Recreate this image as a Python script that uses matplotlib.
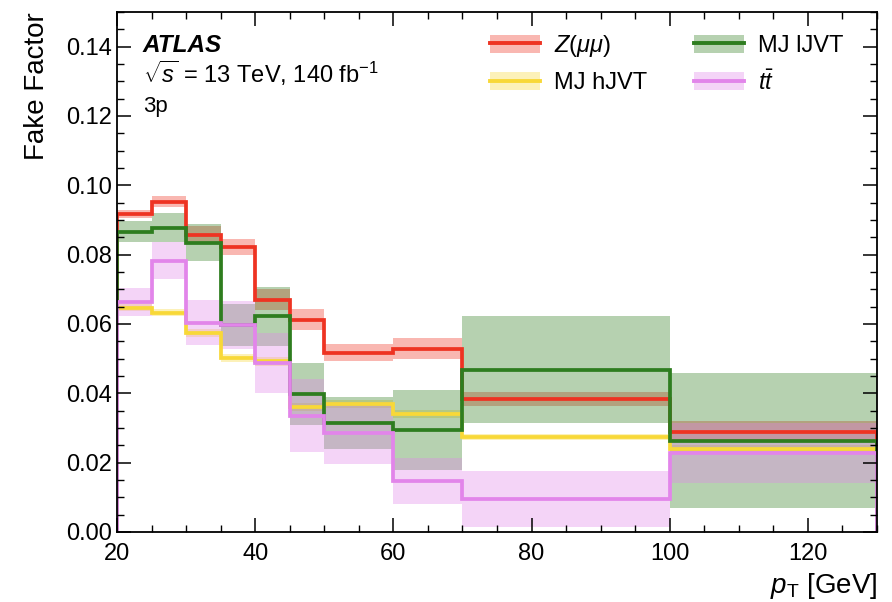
import numpy as np
import matplotlib
matplotlib.use("Agg")
import matplotlib.pyplot as plt
from matplotlib.patches import Patch
from matplotlib.lines import Line2D
from matplotlib.ticker import MultipleLocator, FormatStrFormatter

plt.rcParams['font.family'] = ['Liberation Sans', 'DejaVu Sans']
plt.rcParams['mathtext.fontset'] = 'custom'
plt.rcParams['mathtext.rm'] = 'Liberation Sans'
plt.rcParams['mathtext.it'] = 'Liberation Sans:italic'
plt.rcParams['mathtext.bf'] = 'Liberation Sans:bold'

# pT bin edges [GeV]
edges = [20, 25, 30, 35, 40, 45, 50, 60, 70, 100, 130]

# fake factors per bin and their uncertainties
ff_zmumu = [0.0918, 0.0953, 0.0857, 0.0823, 0.0670, 0.0612, 0.0517, 0.0528, 0.0384, 0.0289]
err_zmumu = [0.0012, 0.0016, 0.0025, 0.0023, 0.0030, 0.0030, 0.0025, 0.0030, 0.0020, 0.0030]

ff_hjvt = [0.0647, 0.0632, 0.0574, 0.0502, 0.0492, 0.0361, 0.0370, 0.0341, 0.0274, 0.0240]
err_hjvt = [0.0010, 0.0010, 0.0012, 0.0012, 0.0012, 0.0012, 0.0012, 0.0012, 0.0010, 0.0010]

ff_ljvt = [0.0866, 0.0878, 0.0834, 0.0597, 0.0622, 0.0398, 0.0314, 0.0294, 0.0468, 0.0263]
err_ljvt = [0.0030, 0.0042, 0.0053, 0.0060, 0.0085, 0.0090, 0.0075, 0.0115, 0.0155, 0.0195]

ff_ttbar = [0.0664, 0.0782, 0.0603, 0.0597, 0.0488, 0.0335, 0.0286, 0.0147, 0.0095, 0.0228]
err_ttbar = [0.0040, 0.0053, 0.0065, 0.0070, 0.0087, 0.0105, 0.0090, 0.0065, 0.0080, 0.0086]

samples = [
    (r"$Z(\mu\mu)$", ff_zmumu, err_zmumu, "#ee3322"),
    ("MJ hJVT", ff_hjvt, err_hjvt, "#f8d838"),
    ("MJ lJVT", ff_ljvt, err_ljvt, "#2e7d1f"),
    (r"$t\bar{t}$", ff_ttbar, err_ttbar, "#e285ea"),
]

fig = plt.figure(figsize=(8.92, 6.02), dpi=100)
ax = fig.add_axes([0.1312, 0.1163, 0.852, 0.864])

handles = []
# uncertainty bands underneath, central values on top
for label, vals, errs, col in samples:
    vals = np.array(vals)
    errs = np.array(errs)
    ax.stairs(vals + errs, edges, baseline=vals - errs, fill=True,
              color=col, alpha=0.35, linewidth=0)
for label, vals, errs, col in samples:
    ax.stairs(vals, edges, color=col, linewidth=2.7)
    handles.append((Patch(facecolor=col, alpha=0.35, linewidth=0),
                    Line2D([], [], color=col, linewidth=2.8)))

ax.legend(handles, [s[0] for s in samples],
          ncol=2, loc="upper right", frameon=False, fontsize=17,
          bbox_to_anchor=(0.984, 1.0), handlelength=2.1, handleheight=0.8,
          handletextpad=0.6, columnspacing=2.0, labelspacing=0.55)

ax.set_xlim(20, 130)
ax.set_ylim(0, 0.15)
ax.xaxis.set_major_locator(MultipleLocator(20))
ax.xaxis.set_minor_locator(MultipleLocator(5))
ax.yaxis.set_major_locator(MultipleLocator(0.02))
ax.yaxis.set_minor_locator(MultipleLocator(0.005))
ax.yaxis.set_major_formatter(FormatStrFormatter('%.2f'))
ax.tick_params(which="both", direction="in", top=True, right=True, labelsize=17)
ax.tick_params(which="major", length=10, width=1.1)
ax.tick_params(which="minor", length=5, width=1.0)
ax.tick_params(axis="x", pad=8)
for sp in ax.spines.values():
    sp.set_linewidth(1.3)

ax.set_xlabel(r"$p_{\mathrm{T}}$ [GeV]", fontsize=20, loc="right", labelpad=4)
ax.set_ylabel("Fake Factor", fontsize=20, loc="top", labelpad=12)

ax.text(0.034, 0.923, "ATLAS", transform=ax.transAxes, fontsize=17.5,
        fontweight="bold", fontstyle="italic", va="baseline")
ax.text(0.034, 0.863, r"$\sqrt{s}$ = 13 TeV, 140 fb$^{-1}$", transform=ax.transAxes,
        fontsize=17, va="baseline")
ax.text(0.034, 0.808, "3p", transform=ax.transAxes, fontsize=16, va="baseline")

fig.savefig("out.png", dpi=100)
